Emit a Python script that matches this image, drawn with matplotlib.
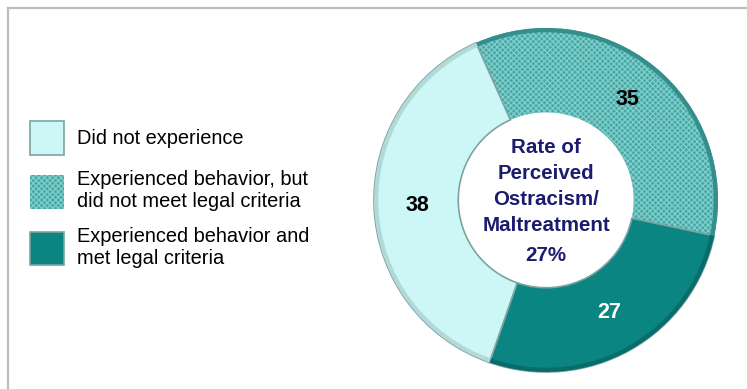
import matplotlib
matplotlib.use("Agg")
import matplotlib.pyplot as plt
from matplotlib.lines import Line2D

plt.rcParams["font.family"] = ["Liberation Sans", "DejaVu Sans"]
plt.rcParams["hatch.linewidth"] = 0.8

# slices, clockwise from the upper-left boundary
categories = ["Experienced behavior, but\ndid not meet legal criteria",
              "Experienced behavior and\nmet legal criteria",
              "Did not experience"]
values = [35, 27, 38]
colors = ["#45aaa7", "#0b8582", "#cdf6f6"]
rim_colors = ["#358e8b", "#076d6a", "#b2d8d8"]
hatches = ["xxxxxx", None, None]
label_colors = ["black", "white", "black"]
legend_order = [2, 0, 1]

center_title = "Rate of\nPerceived\nOstracism/\nMaltreatment"
center_value = "27%"
NAVY = "#1c1c6e"

fig = plt.figure(figsize=(7.47, 3.89), dpi=100)
W, H = 747, 389

# light frame along the top and left edges
fig.add_artist(Line2D([8 / W, 1], [1 - 8 / H, 1 - 8 / H], color="#bdbdbd", lw=1.6))
fig.add_artist(Line2D([8 / W, 8 / W], [0, 1 - 8 / H], color="#bdbdbd", lw=1.6))

cx, cy, R = 546, 200, 172
ax = fig.add_axes([(cx - R) / W, (H - cy - R) / H, 2 * R / W, 2 * R / H])

wedges, _, autotexts = ax.pie(
    values, colors=colors, startangle=114, counterclock=False,
    radius=1.0, autopct=lambda p: f"{p:.0f}", pctdistance=0.75,
    wedgeprops=dict(width=0.49, edgecolor="#7aa3a2", linewidth=1.2),
    textprops=dict(fontsize=15.5, fontweight="bold"))

for w, h in zip(wedges, hatches):
    if h:
        # dotted texture on top of the solid fill
        w.set_hatch(h)
        w.set_edgecolor("#86cfcc")
        w.set_linewidth(0)

# darker rim along the outer edge for a bevelled look
ax.pie(values, colors=rim_colors, startangle=114, counterclock=False,
       radius=1.0, wedgeprops=dict(width=0.025, linewidth=0))

for t, c in zip(autotexts, label_colors):
    t.set_color(c)

ax.text(0, 0.078, center_title, ha="center", va="center", fontsize=14.8,
        fontweight="bold", color=NAVY, linespacing=1.45)
ax.text(0, -0.32, center_value, ha="center", va="center", fontsize=14.8,
        fontweight="bold", color=NAVY)
ax.set_xlim(-1, 1)
ax.set_ylim(-1, 1)

# legend on the left, square swatches
handles = [wedges[i] for i in legend_order]
labels = [categories[i] for i in legend_order]
leg = fig.legend(handles, labels, loc="upper left",
                 bbox_to_anchor=(12 / W, 1 - 103 / H), frameon=False,
                 fontsize=14.4, handlelength=1.7, handleheight=2.2,
                 handletextpad=0.65, labelspacing=0.78)

fig.savefig("out.png", dpi=100, facecolor="white")
